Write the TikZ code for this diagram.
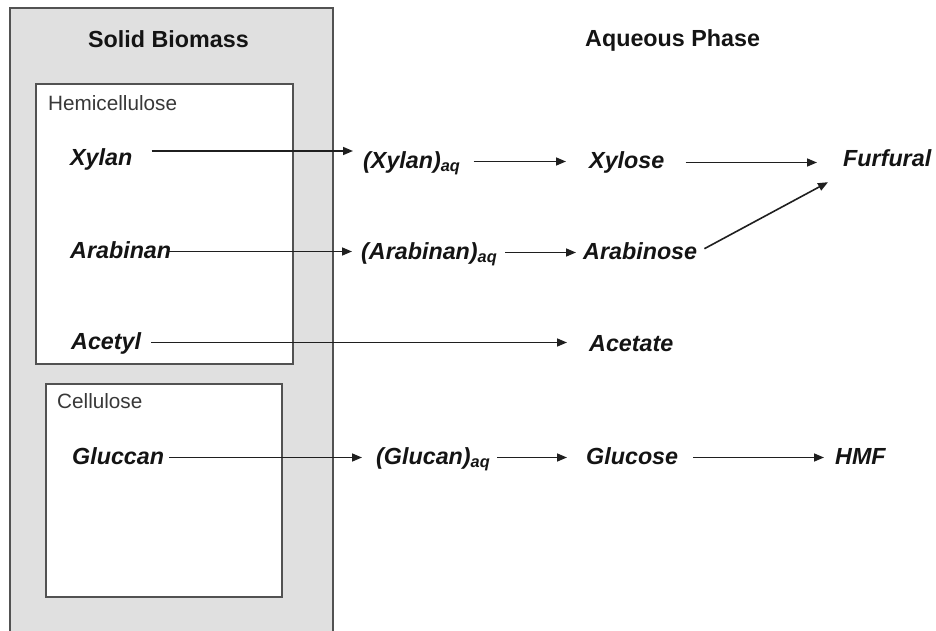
\documentclass[tikz,border=0pt]{standalone}
\usepackage{fontspec}
\setmainfont{Liberation Sans}
\usetikzlibrary{arrows.meta}

\begin{document}
\begin{tikzpicture}[x=1pt,y=-1pt,>={Triangle[length=10pt,width=8pt]}]
    \tikzstyle{every node}=[inner sep=0pt,anchor=base west]
    \tikzstyle{species}=[font=\fontsize{23.3}{28}\selectfont\bfseries\itshape, text=black!92, text height=17pt, text depth=4pt]
    \tikzstyle{title}=[font=\fontsize{23.3}{28}\selectfont\bfseries, text=black!92]
    \tikzstyle{fraction}=[font=\fontsize{20.7}{25}\selectfont, text=black!78]
    \tikzstyle{flow}=[->,draw=black!88,line width=1.6pt]
    \tikzstyle{frame}=[draw=black!68,line width=1.8pt]

    \useasboundingbox (0,0) rectangle (936,631);

    % Draw the solid biomass column and its two fractions
    \fill[black!12] (10,8) rectangle (333,631);
    \draw[frame] (10,631) -- (10,8) -- (333,8) -- (333,631);
    \filldraw[frame,fill=white] (36,84) rectangle (293,364);
    \filldraw[frame,fill=white] (46,384) rectangle (282,597);

    % Headings
    \node[title] (sb) at (88,48) {Solid Biomass};
    \node[title] (ap) at (585,47) {Aqueous Phase};
    \node[fraction] (hc) at (48,111) {Hemicellulose};
    \node[fraction] (ce) at (57,408) {Cellulose};

    % Draw the species, row by row
    \foreach \name/\x/\y/\txt in {xyl/70/166/Xylan, xaq/363/168/{(Xylan)\textsubscript{aq}},
        xyo/589/169/Xylose, fur/843/167/Furfural,
        ara/70/258/Arabinan, aaq/361/259/{(Arabinan)\textsubscript{aq}}, aro/583/259/Arabinose,
        acl/71/349/Acetyl, act/589/351/Acetate,
        glu/72/464/Gluccan, gaq/376/464/{(Glucan)\textsubscript{aq}}, gle/586/464/Glucose, hmf/835/464/HMF}
        \node[species] (\name) at (\x,\y) {\txt};

    % Connect each species with the next one
    \draw[flow,shorten <=19pt,shorten >=10pt] ([yshift=8.5pt]xyl.east) -- ([yshift=8.5pt]xyl.east -| xaq.west);
    \foreach \source/\dest/\a/\b in {xaq/xyo/13pt/23pt, xyo/fur/21pt/26pt,
        ara/aaq/-2pt/9pt, aaq/aro/8pt/7pt, acl/act/10pt/22pt,
        glu/gaq/5pt/14pt, gaq/gle/7pt/19pt, gle/hmf/15pt/11pt}
        \draw[flow,shorten <=\a,shorten >=\b] (\source.east) -- (\source.east -| \dest.west);
    \draw[flow,shorten <=8pt] (aro.east) -- ([xshift=-15pt,yshift=-11pt]fur.south west);
\end{tikzpicture}
\end{document}
